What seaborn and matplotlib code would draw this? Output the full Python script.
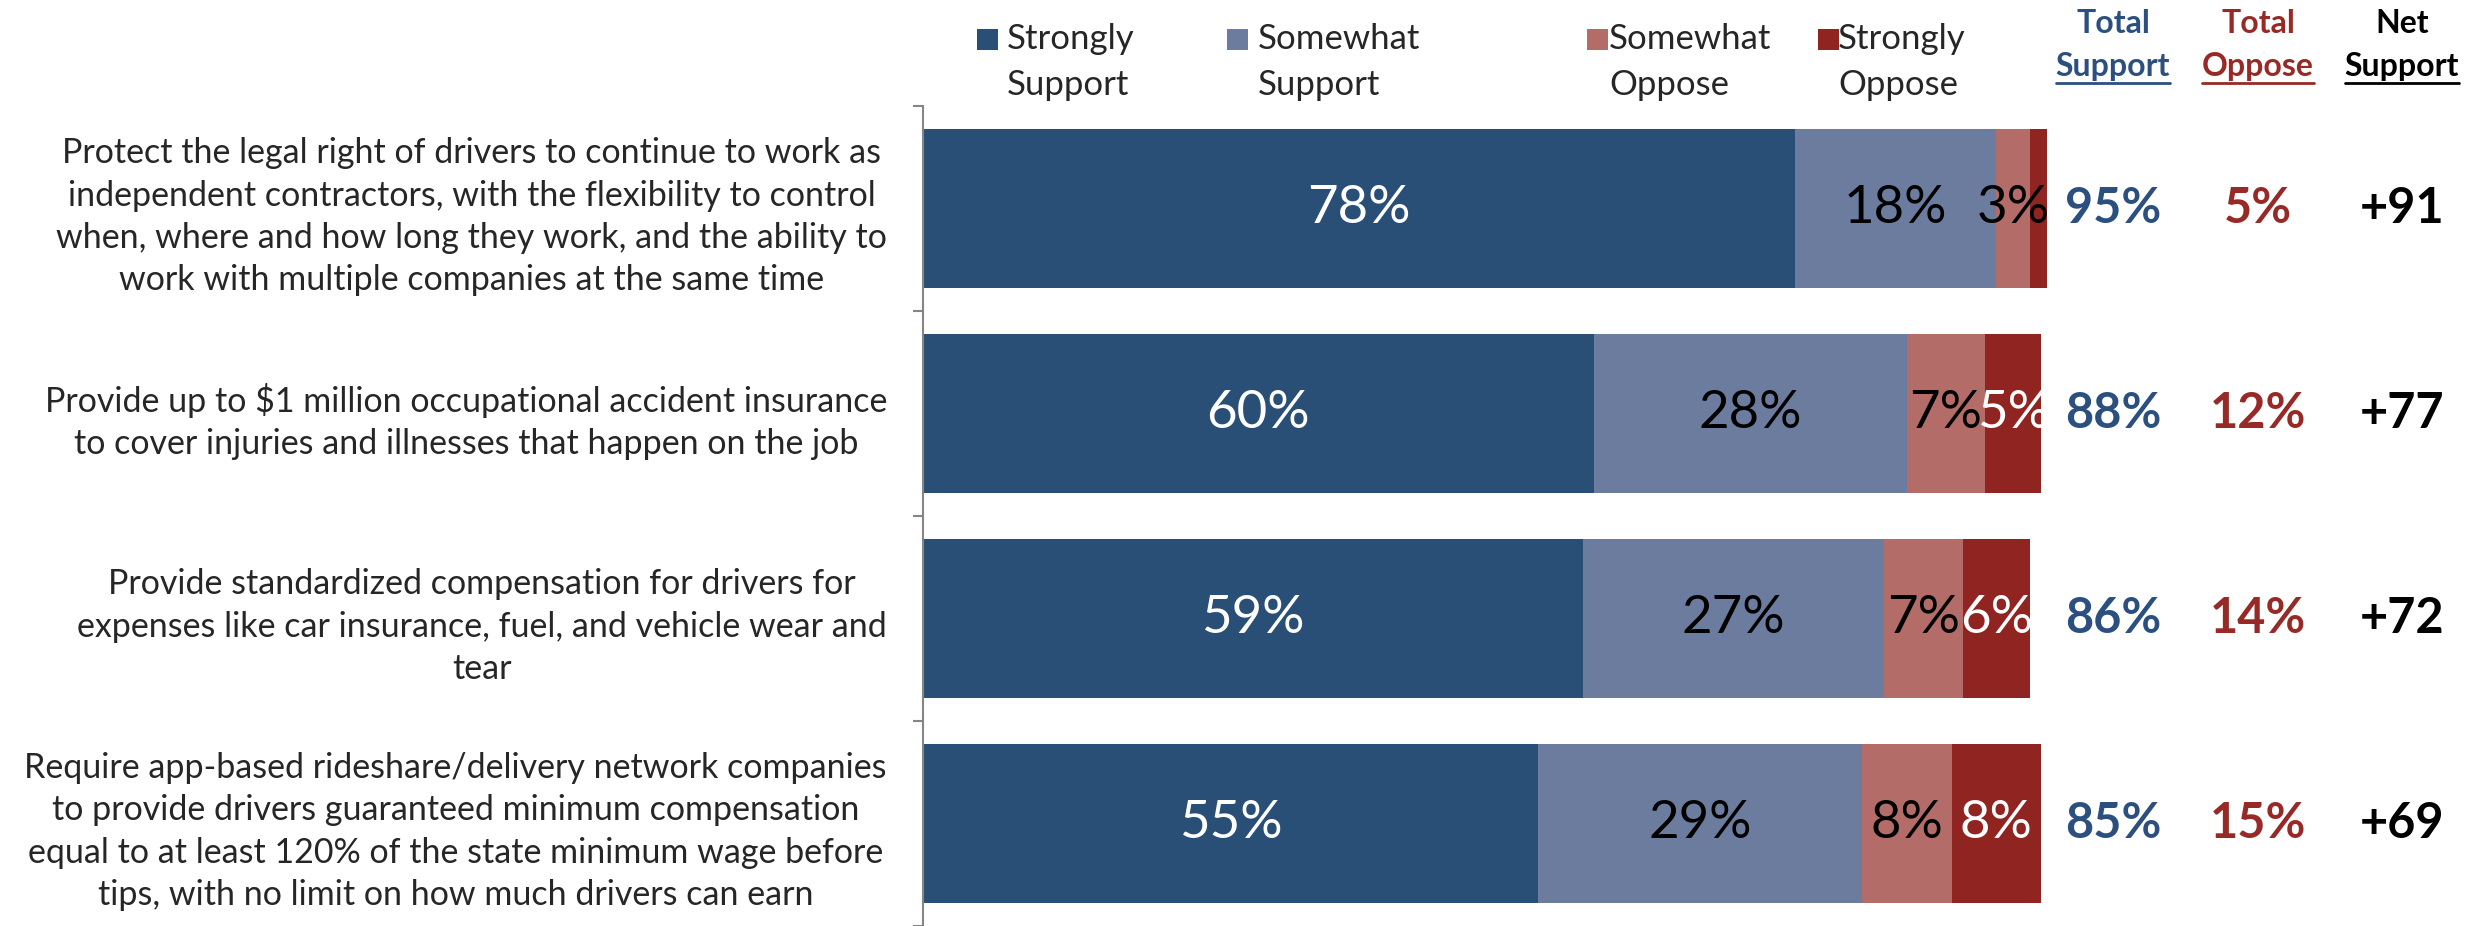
import matplotlib
matplotlib.use("Agg")
import numpy as np
import pandas as pd
import matplotlib.pyplot as plt
from matplotlib.patches import Rectangle
from matplotlib.lines import Line2D
from matplotlib.transforms import blended_transform_factory
import seaborn as sns

# ---- data -------------------------------------------------------------
statements = [
    "Protect the legal right of drivers to continue to work as\n"
    "independent contractors, with the flexibility to control\n"
    "when, where and how long they work, and the ability to\n"
    "work with multiple companies at the same time",
    "Provide up to $1 million occupational accident insurance\n"
    "to cover injuries and illnesses that happen on the job",
    "Provide standardized compensation for drivers for\n"
    "expenses like car insurance, fuel, and vehicle wear and\n"
    "tear",
    "Require app-based rideshare/delivery network companies\n"
    "to provide drivers guaranteed minimum compensation\n"
    "equal to at least 120% of the state minimum wage before\n"
    "tips, with no limit on how much drivers can earn",
]
series_names = ["Strongly\nSupport", "Somewhat\nSupport", "Somewhat\nOppose", "Strongly\nOppose"]
strongly_support = [78, 60, 59, 55]
somewhat_support = [18, 28, 27, 29]
somewhat_oppose = [3, 7, 7, 8]
strongly_oppose = [1.5, 5, 6, 8]
total_support = [95, 88, 86, 85]
total_oppose = [5, 12, 14, 15]
net_support = [91, 77, 72, 69]

# ---- styling ----------------------------------------------------------
C_SS = "#2A4F77"
C_WS = "#6C7C9E"
C_WO = "#B36C68"
C_SO = "#8F2421"
C_BLUE_TXT = "#2B5080"
C_RED_TXT = "#972A27"
GREY = "#858585"

sns.set_style("white")
plt.rcParams["font.family"] = ["Lato", "DejaVu Sans"]

W, H, DPI = 2483, 926, 100
fig = plt.figure(figsize=(W / DPI, H / DPI), dpi=DPI)

x0_px, xmax = 923, 101.0
unit_px = 11.18
ax = fig.add_axes([x0_px / W, 0.0, xmax * unit_px / W, 1 - 106 / H])

df = pd.DataFrame({
    "statement": statements,
    "ss": strongly_support,
    "ws": somewhat_support,
    "wo": somewhat_oppose,
    "so": strongly_oppose,
})
df["c1"] = df["ss"]
df["c2"] = df["c1"] + df["ws"]
df["c3"] = df["c2"] + df["wo"]
df["c4"] = df["c3"] + df["so"]

# stacked bars drawn as overlapping cumulative layers, longest first
for col, color in [("c4", C_SO), ("c3", C_WO), ("c2", C_WS), ("c1", C_SS)]:
    sns.barplot(data=df, y="statement", x=col, color=color, orient="h",
                width=0.775, saturation=1, linewidth=0, errorbar=None, ax=ax)

ax.set_xlim(0, xmax)
ax.set_ylim(3.5, -0.5)
ax.set_xlabel("")
ax.set_ylabel("")
ax.xaxis.set_visible(False)
for s in ["top", "right", "bottom"]:
    ax.spines[s].set_visible(False)
ax.spines["left"].set_color(GREY)
ax.spines["left"].set_linewidth(1.5)

# category labels on major ticks, boundary tick marks on minor ticks
ax.set_yticks(range(len(statements)))
ax.set_yticklabels(statements, fontsize=24.5)
ax.tick_params(axis="y", which="major", length=0, pad=26)
for lbl in ax.get_yticklabels():
    lbl.set_multialignment("center")
    lbl.set_linespacing(1.4)
ax.set_yticks(np.arange(-0.5, len(statements), 1.0), minor=True)
ax.tick_params(axis="y", which="minor", length=7.5, width=1.5, color=GREY, direction="out", left=True)

# segment value labels
seg_cols = [("ss", "c1", "white"), ("ws", "c2", "black"), ("wo", "c3", "black"), ("so", "c4", "white")]
for i in range(len(df)):
    for vcol, ccol, tcolor in seg_cols:
        v = df.loc[i, vcol]
        if v < 2:
            continue
        xc = df.loc[i, ccol] - v / 2
        ax.text(xc, i, f"{v:.0f}%", ha="center", va="center", fontsize=38, color=tcolor)

# summary columns
col_x = [2113 / W, 2258 / W, 2402 / W]
tr = blended_transform_factory(fig.transFigure, ax.transData)
for i in range(len(df)):
    ax.text(col_x[0], i, f"{total_support[i]}%", transform=tr, ha="center", va="center",
            fontsize=35, fontweight="bold", color=C_BLUE_TXT, clip_on=False)
    ax.text(col_x[1], i, f"{total_oppose[i]}%", transform=tr, ha="center", va="center",
            fontsize=35, fontweight="bold", color=C_RED_TXT, clip_on=False)
    ax.text(col_x[2], i, f"+{net_support[i]}", transform=tr, ha="center", va="center",
            fontsize=35, fontweight="bold", color="black", clip_on=False)

# column headers with underlined second line
renderer = fig.canvas.get_renderer()
headers = [("Total", "Support", C_BLUE_TXT), ("Total", "Oppose", C_RED_TXT), ("Net", "Support", "black")]
for (l1, l2, color), xc in zip(headers, col_x):
    fig.text(xc, 1 - 33 / H, l1, ha="center", va="baseline", fontsize=23,
             fontweight="bold", color=color)
    t2 = fig.text(xc, 1 - 76 / H, l2, ha="center", va="baseline", fontsize=23,
                  fontweight="bold", color=color)
    bb = t2.get_window_extent(renderer)
    yline = 1 - 83 / H
    fig.add_artist(Line2D([bb.x0 / W, bb.x1 / W], [yline, yline], transform=fig.transFigure,
                          color=color, linewidth=2.0))

# legend
sq_x = [977, 1227, 1587, 1818]
txt_x = [1007, 1258, 1609, 1838]
colors = [C_SS, C_WS, C_WO, C_SO]
for name, sx, tx, color in zip(series_names, sq_x, txt_x, colors):
    fig.add_artist(Rectangle((sx / W, 1 - 50 / H), 21 / W, 21 / H, transform=fig.transFigure,
                             facecolor=color, edgecolor="none"))
    a, b = name.split("\n")
    fig.text(tx / W, 1 - 49 / H, a, ha="left", va="baseline", fontsize=25)
    fig.text(tx / W, 1 - 95 / H, b, ha="left", va="baseline", fontsize=25)

fig.savefig("out.png", dpi=DPI)
